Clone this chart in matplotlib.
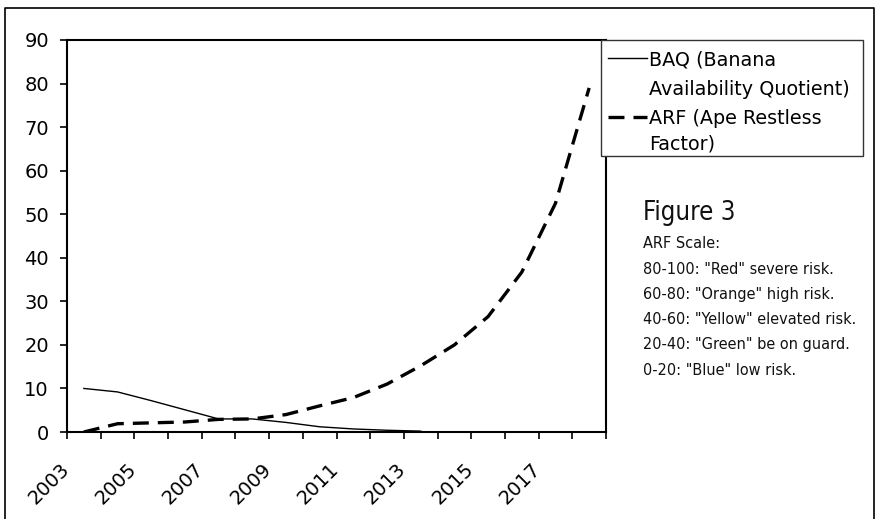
import matplotlib
matplotlib.use('Agg')
import matplotlib.pyplot as plt
from matplotlib import font_manager as fm
from matplotlib.font_manager import FontProperties
from matplotlib.lines import Line2D
from matplotlib.patches import Rectangle
from matplotlib.transforms import ScaledTranslation

# ---------------- data ----------------
years = list(range(2003, 2019))
baq_values = [10.0, 9.2, 7.2, 5.1, 3.0, 3.0, 2.2, 1.2, 0.7, 0.4, 0.2]          # 2003-2013
arf_values = [0.0, 1.9, 2.1, 2.3, 2.9, 3.0, 4.0, 6.0, 7.9, 11.0, 15.2, 20.0,
              26.5, 36.7, 52.5, 79.0]                                          # 2003-2018
tick_labels = [str(y) for y in years[::2]]
y_ticks = list(range(0, 100, 10))
legend_lines_baq = ['BAQ (Banana', 'Availability Quotient)']
legend_lines_arf = ['ARF (Ape Restless', 'Factor)']
note_title = 'Figure 3'
note_lines = ['ARF Scale:',
              '80-100: "Red" severe risk.',
              '60-80: "Orange" high risk.',
              '40-60: "Yellow" elevated risk.',
              '20-40: "Green" be on guard.',
              '0-20: "Blue" low risk.']

# ---------------- setup ----------------
plt.rcParams['lines.scale_dashes'] = False
plt.rcParams['font.family'] = ['DejaVu Sans']
W, H = 875, 519
fig = plt.figure(figsize=(W / 100, H / 100), dpi=100)
fig.patch.set_facecolor('white')

def P(x, y):
    return (x / W, 1 - y / H)

# pick the narrowest regular, upright Latin font available
STRETCH = {'ultra-condensed': 100, 'extra-condensed': 200, 'condensed': 300,
           'semi-condensed': 400, 'normal': 500, 'semi-expanded': 600,
           'expanded': 700, 'extra-expanded': 800, 'ultra-expanded': 900}

def sval(s):
    if isinstance(s, (int, float)):
        return s
    return STRETCH.get(str(s).lower(), 500)

def wval(w):
    if isinstance(w, (int, float)):
        return w
    return {'normal': 400, 'regular': 400, 'book': 400}.get(str(w).lower(), 0)

best = None
for f in fm.fontManager.ttflist:
    if 'CJK' in f.name or f.style != 'normal':
        continue
    if wval(f.weight) != 400:
        continue
    sv = sval(f.stretch)
    if 'narrow' in f.name.lower() or 'condensed' in f.name.lower():
        sv = min(sv, 300)
    if 'mono' in f.name.lower() or 'serif' in f.name.lower() and 'sans' not in f.name.lower():
        continue
    if best is None or sv < best[0]:
        best = (sv, f.fname)
if best is not None and best[0] < 500:
    narrow_fp = FontProperties(fname=best[1])
else:
    narrow_fp = FontProperties(family='DejaVu Sans', stretch='condensed')

# axes: left 67, right 606, top 40, bottom 432 (pixels)
L, R, T, B = 67, 606, 40, 432
ax = fig.add_axes([L / W, 1 - B / H, (R - L) / W, (B - T) / H])

ARF_DASH = (0, (11.5, 6.5))
x_baq = list(range(len(baq_values)))
x_arf = list(range(len(arf_values)))
ax.plot(x_baq, baq_values, color='black', lw=1.0, solid_joinstyle='round')
ax.plot(x_arf, arf_values, color='black', lw=2.4, linestyle=ARF_DASH,
        dash_capstyle='butt')

ax.set_xlim(-0.5, len(years) - 0.5)
ax.set_ylim(0, 90)

for s in ax.spines.values():
    s.set_linewidth(1.5)
    s.set_color('black')

ax.set_yticks(y_ticks)
ax.set_yticklabels([str(v) for v in y_ticks], fontsize=14)
ax.tick_params(axis='y', direction='out', length=5, width=1.2, pad=8)

# category boundaries as minor ticks, labels at centers
ax.set_xticks([i - 0.5 for i in range(len(years) + 1)], minor=True)
ax.set_xticks(list(range(0, len(years), 2)))
ax.set_xticklabels(tick_labels, rotation=45, ha='right', va='top', fontsize=14)
ax.tick_params(axis='x', which='minor', direction='out', length=5, width=1.2)
ax.tick_params(axis='x', which='major', length=0, pad=20)
off = ScaledTranslation(-11 / 100, 0, fig.dpi_scale_trans)
for lab in ax.get_xticklabels():
    lab.set_transform(lab.get_transform() + off)

# ---------------- legend (manual) ----------------
lx0, ly0, lx1, ly1 = 601, 40, 863, 156
fig.patches.append(Rectangle(P(lx0, ly1), (lx1 - lx0) / W, (ly1 - ly0) / H,
                             transform=fig.transFigure, facecolor='white',
                             edgecolor='#333333', lw=1.0, zorder=5))
fig.lines.append(Line2D([608 / W, 647 / W], [1 - 58 / H] * 2, transform=fig.transFigure,
                        color='black', lw=1.0, zorder=6))
fig.lines.append(Line2D([608 / W, 647 / W], [1 - 117 / H] * 2, transform=fig.transFigure,
                        color='black', lw=2.4, linestyle=ARF_DASH, zorder=6))
for txt, yb in zip(legend_lines_baq + legend_lines_arf, [66, 95, 124, 150]):
    fig.text(*P(649, yb), txt, fontsize=13.8, va='baseline', ha='left', zorder=7)

# ---------------- annotation ----------------
renderer = fig.canvas.get_renderer()

def fit_size(txt, target_px, max_size):
    t = fig.text(0, 0, txt, fontproperties=narrow_fp, fontsize=20)
    w = t.get_window_extent(renderer).width
    t.remove()
    return min(max_size, 20 * target_px / w)

title_size = fit_size(note_title, 92, 23)
line_size = fit_size(note_lines[3], 212, 14)

tfp = narrow_fp.copy()
tfp.set_size(title_size)
fig.text(*P(643, 220), note_title, fontproperties=tfp, va='baseline', ha='left',
         color='#111111')
lfp = narrow_fp.copy()
lfp.set_size(line_size)
for txt, yb in zip(note_lines, [248, 274, 299, 324, 349, 375]):
    fig.text(*P(643, yb), txt, fontproperties=lfp, va='baseline', ha='left',
             color='#111111')

# ---------------- outer border ----------------
fig.lines.append(Line2D([5 / W, 5 / W, 874 / W, 874 / W],
                        [0, 1 - 8 / H, 1 - 8 / H, 0], transform=fig.transFigure,
                        color='black', lw=1.2))

fig.savefig('out.png', dpi=100, facecolor='white')
